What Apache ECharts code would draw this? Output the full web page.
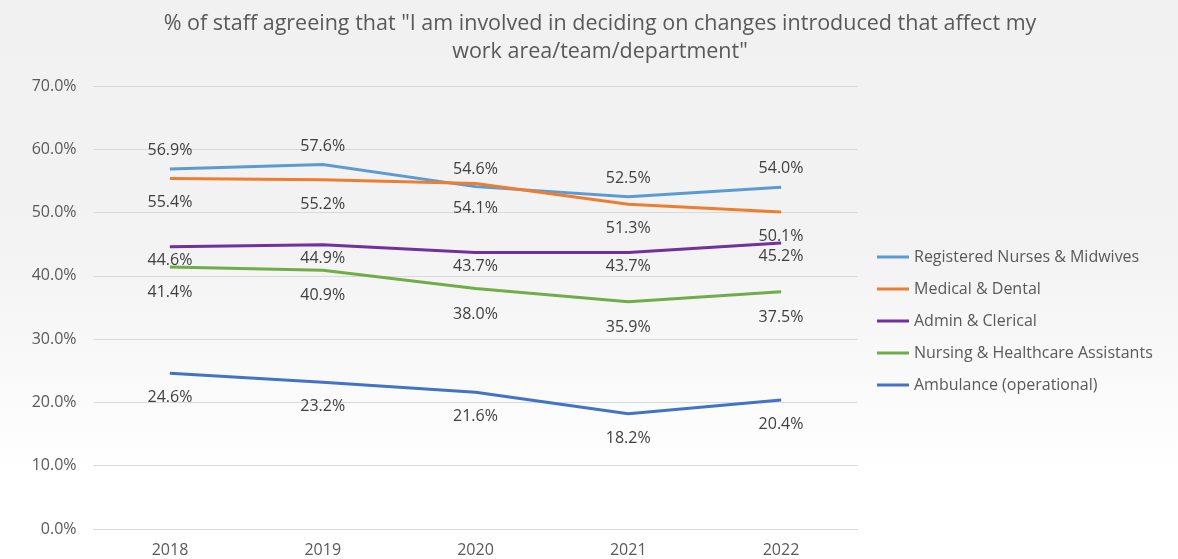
<!DOCTYPE html>
<html>
<head>
<meta charset="utf-8">
<script src="https://cdn.jsdelivr.net/npm/echarts@6/dist/echarts.min.js"></script>
<style>
  html, body { margin: 0; padding: 0; }
  #chart { width: 1178px; height: 559px; }
</style>
</head>
<body>
<div id="chart"></div>
<script>
  const years = ["2018", "2019", "2020", "2021", "2022"];
  const nurses = [56.9, 57.6, 54.1, 52.5, 54.0];
  const medical = [55.4, 55.2, 54.6, 51.3, 50.1];
  const admin = [44.6, 44.9, 43.7, 43.7, 45.2];
  const hca = [41.4, 40.9, 38.0, 35.9, 37.5];
  const ambulance = [24.6, 23.2, 21.6, 18.2, 20.4];

  const FONT = "'Open Sans', 'Noto Sans', sans-serif";

  // label side per point: Excel had the 2020 pair swapped
  function points(values, overrides = {}) {
    return values.map((v, i) => {
      const o = overrides[i];
      if (!o) return v;
      return { value: v, label: { position: o[0], distance: o[1] } };
    });
  }

  function lineSeries(name, color, data, pos, dist) {
    return {
      name,
      type: "line",
      data,
      symbol: "circle",
      symbolSize: 1,
      showSymbol: true,
      lineStyle: { color, width: 3 },
      itemStyle: { color },
      label: {
        show: true,
        position: pos,
        distance: dist,
        color: "#404040",
        fontFamily: FONT,
        fontSize: 16,
        formatter: (p) => p.value.toFixed(1) + "%"
      },
      emphasis: { disabled: true }
    };
  }

  const chart = echarts.init(document.getElementById("chart"), null, { renderer: "canvas" });

  chart.setOption({
    animation: false,
    backgroundColor: {
      type: "linear", x: 0, y: 0, x2: 0, y2: 1,
      colorStops: [
        { offset: 0, color: "#f1f1f1" },
        { offset: 0.45, color: "#f3f3f3" },
        { offset: 0.85, color: "#ffffff" },
        { offset: 1, color: "#ffffff" }
      ]
    },
    title: {
      text: "% of staff agreeing that \"I am involved in deciding on changes introduced that affect my\nwork area/team/department\"",
      left: 595,
      top: 5,
      textAlign: "center",
      textStyle: {
        fontFamily: FONT,
        fontSize: 21.5,
        fontWeight: "normal",
        color: "#595959",
        lineHeight: 28
      }
    },
    legend: {
      orient: "vertical",
      left: 877,
      top: 248,
      padding: 0,
      icon: "rect",
      itemWidth: 32,
      itemHeight: 3,
      itemGap: 14,
      textStyle: { fontFamily: FONT, fontSize: 16, color: "#595959", lineHeight: 18 },
      data: [
        "Registered Nurses & Midwives",
        "Medical & Dental",
        "Admin & Clerical",
        "Nursing & Healthcare Assistants",
        "Ambulance (operational)"
      ]
    },
    grid: { left: 93.6, right: 320.6, top: 86, bottom: 30 },
    xAxis: {
      type: "category",
      data: years,
      boundaryGap: true,
      axisLine: { lineStyle: { color: "#d9d9d9" } },
      axisTick: { show: false },
      axisLabel: { color: "#595959", fontFamily: FONT, fontSize: 16, margin: 13 }
    },
    yAxis: {
      type: "value",
      min: 0,
      max: 70,
      interval: 10,
      axisLine: { show: false },
      axisTick: { show: false },
      splitLine: { lineStyle: { color: "#d9d9d9", width: 1 } },
      axisLabel: {
        color: "#595959",
        fontFamily: FONT,
        fontSize: 16,
        margin: 17,
        formatter: (v) => v.toFixed(1) + "%"
      }
    },
    series: [
      lineSeries("Registered Nurses & Midwives", "#5B9BD5",
        points(nurses, { 2: ["bottom", 13] }), "top", 10),
      lineSeries("Medical & Dental", "#ED7D31",
        points(medical, { 2: ["top", 6] }), "bottom", 16),
      lineSeries("Admin & Clerical", "#7030A0", admin, "bottom", 5),
      lineSeries("Nursing & Healthcare Assistants", "#70AD47", hca, "bottom", 17),
      lineSeries("Ambulance (operational)", "#4472C4", ambulance, "bottom", 16)
    ]
  });
</script>
</body>
</html>
